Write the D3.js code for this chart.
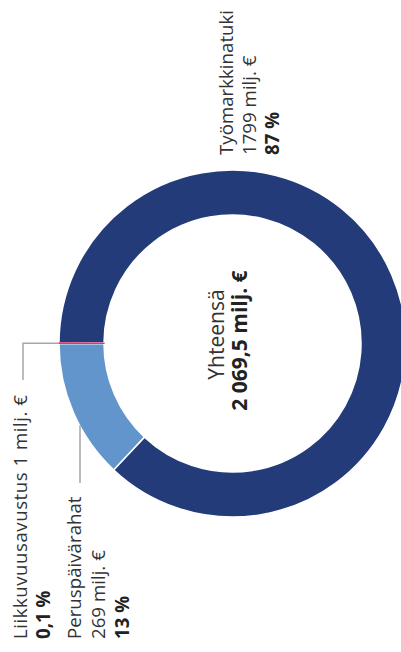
<!DOCTYPE html>
<html>
<head>
<meta charset="utf-8">
<script src="https://cdn.jsdelivr.net/npm/d3@7"></script>
<style>
  body { margin: 0; background: #fff; }
  svg { display: block; font-family: "Open Sans", "Noto Sans", sans-serif; }
  .lbl { font-size: 18.7px; fill: #333; }
  .bold { font-weight: 700; fill: #222; }
</style>
</head>
<body>
<svg class="chart" width="401" height="652"></svg>
<script>
// slices, clockwise from the light blue one
var names = ["Peruspäivärahat", "Liikkuvuusavustus", "Työmarkkinatuki"];
var values = [269, 1, 1799.5];
var amounts = ["269 milj. €", "1 milj. €", "1799 milj. €"];
var shares = ["13 %", "0,1 %", "87 %"];
var colors = ["#6395cd", "#e5336b", "#233b78"];
var totalTitle = "Yhteensä";
var totalValue = "2 069,5 milj. €";

var svg = d3.select(".chart"),
    W = +svg.attr("width"),
    H = +svg.attr("height");

// whole chart is drawn landscape and turned a quarter to the left
var g = svg.append("g")
    .attr("transform", "translate(0," + H + ") rotate(-90)");

var cx = 308.5, cy = 232.5,
    outerR = 173.5, innerR = 128.5;

var total = d3.sum(values);
var pie = d3.pie().sort(null)
    .startAngle(-values[0] / total * 2 * Math.PI)
    .endAngle(2 * Math.PI - values[0] / total * 2 * Math.PI);
var arc = d3.arc().innerRadius(innerR).outerRadius(outerR);
var arcs = pie(values);

var donut = g.append("g")
    .attr("transform", "translate(" + cx + "," + cy + ")");

donut.selectAll("path")
    .data(arcs)
    .enter().append("path")
    .attr("d", arc)
    .attr("fill", function(d, i) { return colors[i]; })
    .attr("stroke", "#fff")
    .attr("stroke-width", 1.5);

// tiny slice is too thin, draw it again with its own stroke
donut.append("path")
    .attr("d", arc(arcs[1]))
    .attr("fill", colors[1])
    .attr("stroke", colors[1])
    .attr("stroke-width", 1.2);

// leader lines
var lead = g.append("g")
    .attr("fill", "none")
    .attr("stroke", "#a6a6a6")
    .attr("stroke-width", 1.5);

var a1 = (arcs[1].startAngle + arcs[1].endAngle) / 2;
var p1 = [cx + outerR * Math.sin(a1), cy - outerR * Math.cos(a1)];
lead.append("path")
    .attr("d", "M" + p1[0] + "," + (p1[1] - 1) + "V23H272");

var ly0 = 80;
var lx0 = cx - Math.sqrt(outerR * outerR - (cy - ly0) * (cy - ly0));
lead.append("path")
    .attr("d", "M" + (lx0 + 1) + "," + ly0 + "H169");

// labels
function label(i, x, ys) {
    var t = g.append("g");
    var first = t.append("text").attr("class", "lbl").attr("x", x).attr("y", ys[0])
        .text(i === 1 ? names[i] + " " + amounts[i] : names[i]);
    if (i === 1) {
        first.style("letter-spacing", "0.5px");
        t.append("text").attr("class", "lbl bold").attr("x", x).attr("y", ys[1]).text(shares[i]);
    } else {
        t.append("text").attr("class", "lbl").attr("x", x).attr("y", ys[1]).text(amounts[i]);
        t.append("text").attr("class", "lbl bold").attr("x", x).attr("y", ys[2]).text(shares[i]);
    }
}
label(2, 497, [233, 256, 279]);
label(1, 13, [27, 50]);
label(0, 13, [81, 105, 129]);

// total in the middle
g.append("text").attr("class", "lbl")
    .attr("x", cx + 9).attr("y", 224)
    .attr("text-anchor", "middle")
    .style("font-size", "21px")
    .text(totalTitle);
g.append("text").attr("class", "lbl bold")
    .attr("x", cx + 3).attr("y", 247)
    .attr("text-anchor", "middle")
    .style("font-size", "21px")
    .text(totalValue);
</script>
</body>
</html>
